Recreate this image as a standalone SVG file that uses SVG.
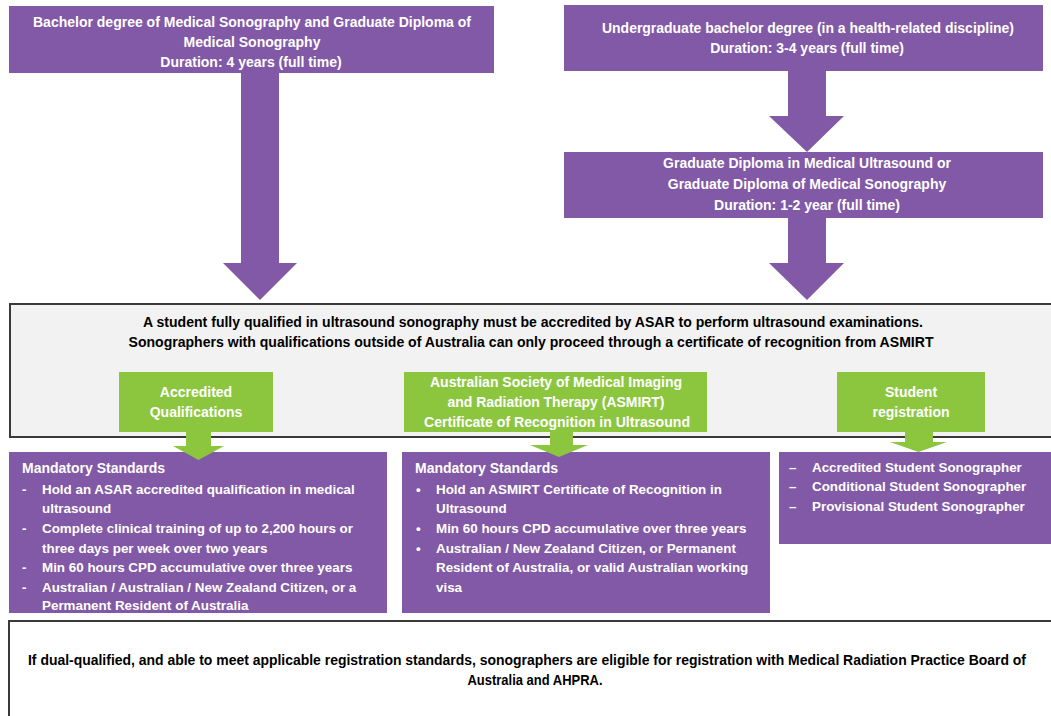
<svg xmlns="http://www.w3.org/2000/svg" width="1051" height="716" viewBox="0 0 1051 716">
<style>
.purple{fill:#8159A6;}
.green{fill:#8CC63F;}
.t{font-family:"Liberation Sans",Arial,sans-serif;font-weight:bold;}
.w{fill:#ffffff;font-size:14px;}
.wl{fill:#ffffff;font-size:13.4px;}
.wh{fill:#ffffff;font-size:14px;}
.k{fill:#000000;font-size:15px;}
.c{text-anchor:middle;}
</style>
<rect x="0" y="0" width="1051" height="716" fill="#ffffff"/>

<g id="top-left">
<rect class="purple" x="9" y="6" width="485" height="67"/>
<text class="t w c" x="252" y="27" textLength="438" lengthAdjust="spacingAndGlyphs">Bachelor degree of Medical Sonography and Graduate Diploma of</text>
<text class="t w c" x="252" y="47">Medical Sonography</text>
<text class="t w c" x="251" y="67">Duration: 4 years  (full time)</text>
</g>

<g id="top-right">
<rect class="purple" x="564" y="5" width="479" height="66"/>
<text class="t w c" x="808" y="33" textLength="412" lengthAdjust="spacingAndGlyphs">Undergraduate bachelor degree (in a health-related  discipline)</text>
<text class="t w c" x="807" y="53">Duration: 3-4 years  (full time)</text>
</g>

<g id="grad-diploma">
<rect class="purple" x="564" y="152" width="479" height="66"/>
<text class="t w c" x="807" y="168">Graduate Diploma in Medical Ultrasound or</text>
<text class="t w c" x="807" y="189">Graduate Diploma of Medical Sonography</text>
<text class="t w c" x="807" y="210">Duration: 1-2 year  (full time)</text>
</g>

<g id="accreditation">
<rect x="10" y="304" width="1060" height="133" fill="#F2F2F2" stroke="#3a3a3a" stroke-width="2"/>
<text class="t k c" x="533" y="327" textLength="780" lengthAdjust="spacingAndGlyphs">A student fully qualified in ultrasound sonography must be accredited by ASAR to perform ultrasound examinations.</text>
<text class="t k c" x="531" y="347" textLength="805" lengthAdjust="spacingAndGlyphs">Sonographers with qualifications outside of Australia can only proceed through a certificate of recognition from ASMIRT</text>
</g>

<g id="accredited-qualifications">
<rect class="green" x="119" y="372" width="154" height="60"/>
<text class="t w c" x="196" y="397">Accredited</text>
<text class="t w c" x="196" y="417">Qualifications</text>
</g>

<g id="asmirt">
<rect class="green" x="404" y="372" width="303" height="60"/>
<text class="t w c" x="556" y="387" textLength="252" lengthAdjust="spacingAndGlyphs">Australian Society of Medical Imaging</text>
<text class="t w c" x="556" y="407" textLength="217" lengthAdjust="spacingAndGlyphs">and Radiation Therapy (ASMIRT)</text>
<text class="t w c" x="557" y="427" textLength="266" lengthAdjust="spacingAndGlyphs">Certificate  of Recognition in Ultrasound</text>
</g>

<g id="student-registration">
<rect class="green" x="837" y="372" width="148" height="60"/>
<text class="t w c" x="911" y="397">Student</text>
<text class="t w c" x="911" y="417">registration</text>
</g>

<g id="standards-accredited">
<rect class="purple" x="9" y="452" width="378" height="161"/>
<text class="t wh" x="22" y="473">Mandatory Standards</text>
<text class="t wl" x="22" y="494">-</text>
<text class="t wl" x="42" y="494">Hold an ASAR accredited qualification in medical</text>
<text class="t wl" x="42" y="513">ultrasound</text>
<text class="t wl" x="22" y="533">-</text>
<text class="t wl" x="42" y="533">Complete clinical training of up to 2,200 hours or</text>
<text class="t wl" x="42" y="553">three days per week over two years</text>
<text class="t wl" x="22" y="572">-</text>
<text class="t wl" x="42" y="572">Min 60 hours CPD accumulative over three years</text>
<text class="t wl" x="22" y="592">-</text>
<text class="t wl" x="42" y="592">Australian / Australian / New Zealand Citizen, or a</text>
<text class="t wl" x="42" y="610">Permanent Resident of Australia</text>
</g>

<g id="standards-asmirt">
<rect class="purple" x="402" y="452" width="368" height="161"/>
<text class="t wh" x="415" y="473">Mandatory Standards</text>
<text class="t wl" x="416" y="494">•</text>
<text class="t wl" x="436" y="494">Hold an ASMIRT Certificate of Recognition in</text>
<text class="t wl" x="436" y="513">Ultrasound</text>
<text class="t wl" x="416" y="533">•</text>
<text class="t wl" x="436" y="533">Min 60 hours CPD accumulative over three years</text>
<text class="t wl" x="416" y="553">•</text>
<text class="t wl" x="436" y="553">Australian / New Zealand Citizen, or Permanent</text>
<text class="t wl" x="436" y="572">Resident of Australia, or valid Australian  working</text>
<text class="t wl" x="436" y="592">visa</text>
</g>

<g id="student-types">
<rect class="purple" x="779" y="452" width="280" height="92"/>
<text class="t wl" x="789" y="472">–</text>
<text class="t wl" x="812" y="472">Accredited Student Sonographer</text>
<text class="t wl" x="789" y="491">–</text>
<text class="t wl" x="812" y="491">Conditional Student Sonographer</text>
<text class="t wl" x="789" y="511">–</text>
<text class="t wl" x="812" y="511">Provisional Student Sonographer</text>
</g>

<g id="dual-qualified">
<rect x="9" y="621" width="1060" height="110" fill="#ffffff" stroke="#3a3a3a" stroke-width="2"/>
<text class="t k c" x="527" y="665" textLength="998" lengthAdjust="spacingAndGlyphs">If dual-qualified, and able to meet applicable registration standards, sonographers  are eligible for registration with Medical Radiation Practice Board of</text>
<text class="t k c" x="535" y="685" textLength="135" lengthAdjust="spacingAndGlyphs">Australia and AHPRA.</text>
</g>

<g id="connectors">
<polygon class="purple" points="241,73 279,73 279,263 297,263 260,300 223,263 241,263"/>
<polygon class="purple" points="788,71 826,71 826,116 844,116 807,152 769,116 788,116"/>
<polygon class="purple" points="788,218 826,218 826,263 844,263 807,300 769,263 788,263"/>
<polygon class="green" points="186,432 211,432 211,446 224,446 198.5,460 173,446 186,446"/>
<polygon class="green" points="550,432 573,432 573,445 588,445 559,457 530,445 550,445"/>
<polygon class="green" points="905,432 933,432 933,442 947,442 918.5,452 890,442 905,442"/>
</g>
</svg>
